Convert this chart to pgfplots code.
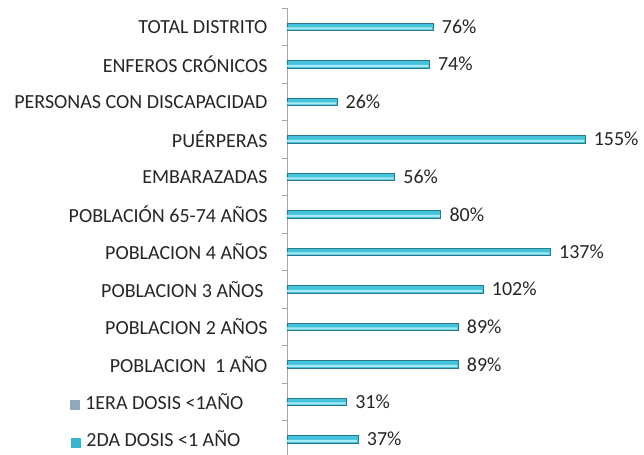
\documentclass[border=0pt]{standalone}
\usepackage{pgfplots}
\pgfplotsset{compat=1.18}
\usepackage{fontspec}
\setmainfont{Carlito}
\definecolor{barmid}{HTML}{45C3DA}
\definecolor{bartop}{HTML}{A8EAF5}
\definecolor{barbot}{HTML}{2A7A8C}
\definecolor{mkA}{HTML}{8FA9BB}
\definecolor{mkB}{HTML}{38B4D0}
\definecolor{axgray}{HTML}{A6A6A6}
\begin{document}
\begin{tikzpicture}
\begin{axis}[
  at={(0,0)}, anchor=south west,
  scale only axis, width=330bp, height=450bp,
  xbar, bar width=7.5bp,
  y dir=reverse,
  xmin=0, xmax=171.6,
  ymin=-0.5, ymax=11.5,
  axis x line=none,
  axis y line*=left,
  axis line style={axgray},
  ytick={0,...,11},
  yticklabels={TOTAL DISTRITO, ENFEROS CRÓNICOS, PERSONAS CON DISCAPACIDAD, PUÉRPERAS, EMBARAZADAS, POBLACIÓN 65-74 AÑOS, POBLACION 4 AÑOS, POBLACION 3 AÑOS\rule{4bp}{0pt}, POBLACION 2 AÑOS, POBLACION\ \ 1 AÑO, {\textcolor{mkA}{\rule[-1bp]{10bp}{10bp}}\kern5bp 1ERA DOSIS <1AÑO\rule{24bp}{0pt}}, {\textcolor{mkB}{\rule[-1bp]{10bp}{10bp}}\kern5bp 2DA DOSIS <1 AÑO\rule{27bp}{0pt}}},
  major tick length=0pt,
  yticklabel style={font=\fontsize{20bp}{22bp}\selectfont, color=black!85, xshift=-16bp},
  extra y ticks={-0.5,0.5,...,11.5},
  extra y tick labels={},
  extra y tick style={major tick length=5bp, tick align=outside, tick style={axgray}},
  /pgf/number format/assume math mode=true,
  clip=false,
]
\addplot[bar shift=0pt, draw=barbot, line width=0.8bp, fill=barmid,
  nodes near coords={\pgfmathprintnumber[assume math mode=true]{\pgfplotspointmeta}\%},
  nodes near coords style={font=\fontsize{20bp}{22bp}\selectfont, color=black!85, anchor=west, xshift=5bp},
  point meta=explicit symbolic]
coordinates {
 (76,0) [76]
 (74,1) [74]
 (26,2) [26]
 (155,3) [155]
 (56,4) [56]
 (80,5) [80]
 (137,6) [137]
 (102,7) [102]
 (89,8) [89]
 (89,9) [89]
 (31,10) [31]
 (37,11) [37]
};
\addplot[bar shift=-1.5bp, bar width=2bp, draw=none, fill=bartop]
coordinates {
 (75.5,0) (73.5,1) (25.5,2) (154.5,3) (55.5,4) (79.5,5) (136.5,6) (101.5,7) (88.5,8) (88.5,9) (30.5,10) (36.5,11)
};
\end{axis}
\pgfresetboundingbox
\path[use as bounding box] (-287bp,3bp) rectangle (357bp,458bp);
\end{tikzpicture}
\end{document}
